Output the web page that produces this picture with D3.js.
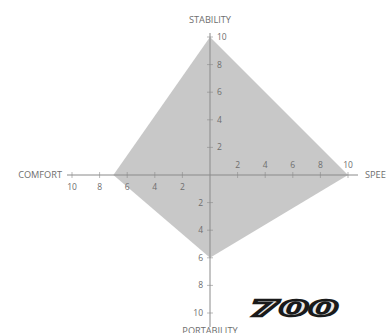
<!DOCTYPE html>
<html><head><meta charset="utf-8">
<script src="https://cdn.jsdelivr.net/npm/d3@7"></script>
<style>body{margin:0;background:#fff}svg{display:block}</style>
</head><body>
<svg id="c" width="386" height="333"></svg>
<script>
const axes = ["SPEED","STABILITY","COMFORT","PORTABILITY"];
const values = [10, 10, 7, 6];
const tickValues = [2,4,6,8,10];
const logoText = "700";

const svg = d3.select("#c");
const x = d3.scaleLinear().domain([-10,10]).range([72,348]);
const y = d3.scaleLinear().domain([-10,10]).range([313,37]);
const cx = x(0), cy = y(0);
const axisCol = "#8a8a8a", textCol = "#6e6e6e";

// polygon
const pts = [[values[0],0],[0,values[1]],[-values[2],0],[0,-values[3]]];
svg.append("path")
  .attr("d", d3.line().x(d=>x(d[0])).y(d=>y(d[1]))(pts) + "Z")
  .attr("fill","#c8c8c8");

// axis lines
svg.append("line").attr("x1",x(-10)-5).attr("x2",x(10)+10).attr("y1",cy).attr("y2",cy)
  .attr("stroke",axisCol).attr("stroke-width",1);
svg.append("line").attr("x1",cx).attr("x2",cx).attr("y1",y(10)-4).attr("y2",y(-10)+14)
  .attr("stroke",axisCol).attr("stroke-width",1);

const g = svg.append("g").attr("font-family","'Open Sans', sans-serif").attr("fill",textCol).attr("font-size",8.5);

tickValues.forEach(v=>{
  // speed (right)
  g.append("line").attr("x1",x(v)).attr("x2",x(v)).attr("y1",cy-3).attr("y2",cy+3).attr("stroke",axisCol).attr("stroke-width",0.6);
  g.append("text").attr("x",x(v)).attr("y",cy-7).attr("text-anchor","middle").text(v);
  // comfort (left)
  g.append("line").attr("x1",x(-v)).attr("x2",x(-v)).attr("y1",cy-3).attr("y2",cy+3).attr("stroke",axisCol).attr("stroke-width",0.6);
  g.append("text").attr("x",x(-v)).attr("y",cy+15).attr("text-anchor","middle").text(v);
  // stability (up)
  g.append("line").attr("x1",cx-3).attr("x2",cx+3).attr("y1",y(v)).attr("y2",y(v)).attr("stroke",axisCol).attr("stroke-width",0.6);
  g.append("text").attr("x",cx+7).attr("y",y(v)+3).attr("text-anchor","start").text(v);
  // portability (down)
  g.append("line").attr("x1",cx-3).attr("x2",cx+3).attr("y1",y(-v)).attr("y2",y(-v)).attr("stroke",axisCol).attr("stroke-width",0.6);
  g.append("text").attr("x",cx-7).attr("y",y(-v)+3).attr("text-anchor","end").text(v);
});

// axis titles
const tg = svg.append("g").attr("font-family","'Open Sans', sans-serif").attr("fill",textCol).attr("font-size",9.2);
tg.append("text").attr("x",x(10)+17).attr("y",cy+3).attr("text-anchor","start").text(axes[0]);
tg.append("text").attr("x",cx).attr("y",y(10)-14).attr("text-anchor","middle").text(axes[1]);
tg.append("text").attr("x",x(-10)-10).attr("y",cy+3).attr("text-anchor","end").text(axes[2]);
tg.append("text").attr("x",cx).attr("y",y(-10)+21).attr("text-anchor","middle").text(axes[3]);

// logo
svg.append("text").attr("x",250).attr("y",316)
  .attr("font-family","'DejaVu Sans', sans-serif").attr("font-weight","bold").attr("font-style","italic")
  .attr("font-size",22).attr("textLength",88).attr("lengthAdjust","spacingAndGlyphs")
  .attr("fill","#e8e8e8").attr("stroke","#1a1a1a").attr("stroke-width",2.4)
  .attr("paint-order","fill")
  .text(logoText);
</script>
</body></html>
